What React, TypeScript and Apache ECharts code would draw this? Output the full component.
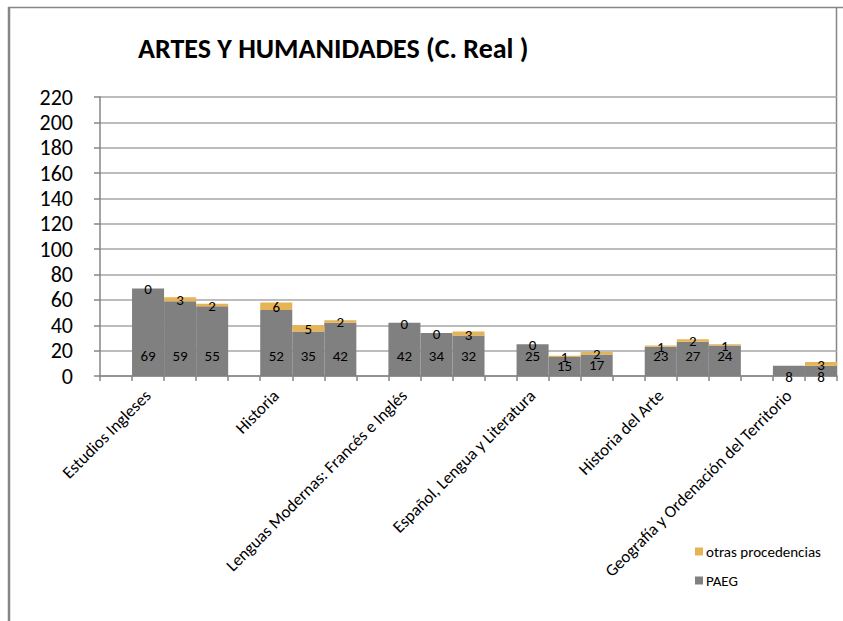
import React, { useEffect, useRef } from "react";
import * as echarts from "echarts";

const categories = [
  "Estudios Ingleses",
  "Historia",
  "Lenguas Modernas: Francés e Inglés",
  "Español, Lengua y Literatura",
  "Historia del Arte",
  "Geografía y Ordenación del Territorio",
];
// three bars per degree (years), left to right
const paegY1 = [69, 52, 42, 25, 23, 8];
const paegY2 = [59, 35, 34, 15, 27, 8];
const paegY3 = [55, 42, 32, 17, 24, null];
const otrasY1 = [0, 6, 0, 0, 1, null];
const otrasY2 = [3, 5, 0, 1, 2, 3];
const otrasY3 = [2, 2, 3, 2, 1, null];
const yTicks = [0, 20, 40, 60, 80, 100, 120, 140, 160, 180, 200, 220];

const FONT = "Carlito, Lato, sans-serif";
const GRAY = "#808080";
const GOLD = "#E6B455";

function buildSlots() {
  const labels: string[] = [];
  const paeg: (number | null)[] = [];
  const otras: (number | null)[] = [];
  const pY = [paegY1, paegY2, paegY3];
  const oY = [otrasY1, otrasY2, otrasY3];
  categories.forEach((c, i) => {
    labels.push("");
    paeg.push(null);
    otras.push(null);
    for (let k = 0; k < 3; k++) {
      labels.push(k === 0 ? c : "");
      paeg.push(pY[k][i]);
      otras.push(oY[k][i]);
    }
  });
  while (labels.length && paeg[paeg.length - 1] == null && otras[otras.length - 1] == null) {
    labels.pop();
    paeg.pop();
    otras.pop();
  }
  return { labels, paeg, otras };
}

export default function App() {
  const ref = useRef<HTMLDivElement>(null);
  useEffect(() => {
    if (!ref.current) return;
    const chart = echarts.init(ref.current, null, { renderer: "svg" });
    const { labels, paeg, otras } = buildSlots();
    const paegData = paeg.map((v) => {
      if (v == null) return null;
      let label: any;
      if (v >= 20) label = { position: "insideBottom", distance: 13 };
      else if (v >= 10) label = { position: "inside" };
      else label = { position: "insideBottom", distance: -8 };
      return { value: v, label };
    });
    const option: any = {
      animation: false,
      backgroundColor: "#ffffff",
      textStyle: { fontFamily: FONT },
      title: {
        text: "ARTES Y HUMANIDADES (C. Real )",
        left: 133,
        top: 29,
        textStyle: { fontFamily: FONT, fontSize: 28, fontWeight: "bold", color: "#000" },
      },
      legend: {
        orient: "vertical",
        left: 690,
        top: 539,
        itemWidth: 8,
        itemHeight: 8,
        itemGap: 14,
        icon: "rect",
        data: ["otras procedencias", "PAEG"],
        textStyle: { fontFamily: FONT, fontSize: 15, color: "#000", padding: [0, 0, 0, -2] },
      },
      grid: { left: 100, right: 6, top: 97, bottom: 245, containLabel: false },
      xAxis: {
        type: "category",
        data: labels,
        boundaryGap: true,
        axisLine: { lineStyle: { color: "#868686", width: 1.5 } },
        axisTick: { show: true, interval: 0, length: 5, lineStyle: { color: "#868686", width: 1.5 } },
        axisLabel: {
          interval: 0,
          rotate: 45,
          margin: 17,
          fontFamily: FONT,
          fontSize: 17,
          color: "#000",
        },
      },
      yAxis: {
        type: "value",
        min: yTicks[0],
        max: yTicks[yTicks.length - 1],
        interval: 20,
        axisLine: { show: true, lineStyle: { color: "#868686", width: 1.5 } },
        axisTick: { show: true, length: 6, lineStyle: { color: "#868686", width: 1.5 } },
        axisLabel: { margin: 27, fontFamily: FONT, fontSize: 22, color: "#000" },
        splitLine: { lineStyle: { color: "#a6a6a6", width: 1.5 } },
      },
      series: [
        {
          name: "PAEG",
          type: "bar",
          stack: "total",
          barCategoryGap: "0%",
          itemStyle: { color: GRAY },
          label: { show: true, fontFamily: FONT, fontSize: 15, color: "#000" },
          data: paegData,
        },
        {
          name: "otras procedencias",
          type: "bar",
          stack: "total",
          barCategoryGap: "0%",
          itemStyle: { color: GOLD },
          label: { show: true, position: "inside", offset: [0, 1], fontFamily: FONT, fontSize: 15, color: "#000" },
          data: otras,
        },
      ],
      graphic: [
        { type: "line", shape: { x1: 9, y1: 7, x2: 9, y2: 621 }, style: { stroke: "#868686", lineWidth: 2.5 } },
        { type: "line", shape: { x1: 8, y1: 7.5, x2: 843, y2: 7.5 }, style: { stroke: "#868686", lineWidth: 1.5 } },
        { type: "line", shape: { x1: 836.5, y1: 7, x2: 836.5, y2: 376 }, style: { stroke: "#868686", lineWidth: 1.5 } },
      ],
    };
    chart.setOption(option);
    return () => chart.dispose();
  }, []);
  return (
    <div
      ref={ref}
      style={{ position: "fixed", left: 0, top: 0, width: 843, height: 621 }}
    />
  );
}
